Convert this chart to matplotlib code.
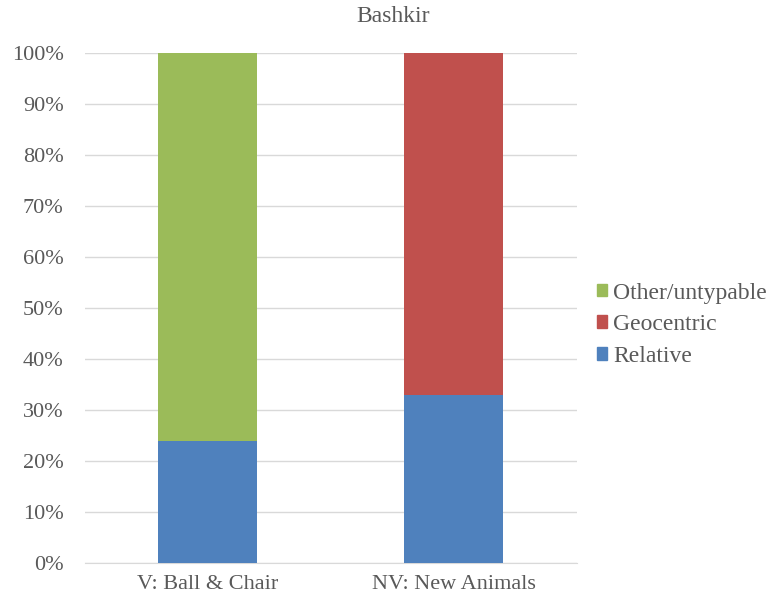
import matplotlib
matplotlib.use("Agg")
import matplotlib.pyplot as plt
from matplotlib.patches import Patch

categories = ["V: Ball & Chair", "NV: New Animals"]
relative = [24, 33]
geocentric = [0, 67]
other = [76, 0]

blue = "#4F81BD"
red = "#C0504D"
green = "#9BBB59"
text_gray = "#595959"
grid_gray = "#D9D9D9"

plt.rcParams["font.family"] = ["Liberation Serif", "DejaVu Serif"]

fig = plt.figure(figsize=(7.72, 6.04), dpi=100)
ax = fig.add_axes([0.1095, 0.0679, 0.6373, 0.8444])

x = range(len(categories))
w = 0.4
ax.bar(x, relative, width=w, color=blue, zorder=3)
ax.bar(x, geocentric, width=w, bottom=relative, color=red, zorder=3)
bottoms = [r + g for r, g in zip(relative, geocentric)]
ax.bar(x, other, width=w, bottom=bottoms, color=green, zorder=3)

ax.set_xlim(-0.5, 1.5)
ax.set_ylim(0, 100)
ax.set_yticks(range(0, 101, 10))
ax.set_yticklabels([f"{v}%" for v in range(0, 101, 10)])
ax.set_xticks(list(x))
ax.set_xticklabels(categories)
ax.yaxis.grid(True, color=grid_gray, linewidth=1, zorder=0)
ax.tick_params(axis="y", length=0, labelsize=16, colors=text_gray, pad=15)
ax.tick_params(axis="x", length=0, labelsize=16, colors=text_gray, pad=9)
for s in ["top", "right", "left"]:
    ax.spines[s].set_visible(False)
ax.spines["bottom"].set_color(grid_gray)

fig.suptitle("Bashkir", x=0.509, y=0.973, va="center", fontsize=17, color=text_gray)

handles = [Patch(color=green, label="Other/untypable"),
           Patch(color=red, label="Geocentric"),
           Patch(color=blue, label="Relative")]
fig.legend(handles=handles, loc="center left", bbox_to_anchor=(0.773, 0.4625),
           frameon=False, fontsize=17, labelcolor=text_gray,
           handlelength=0.45, handleheight=0.45, handletextpad=0.25,
           labelspacing=0.45, borderpad=0, borderaxespad=0)

fig.savefig("out.png", dpi=100)
